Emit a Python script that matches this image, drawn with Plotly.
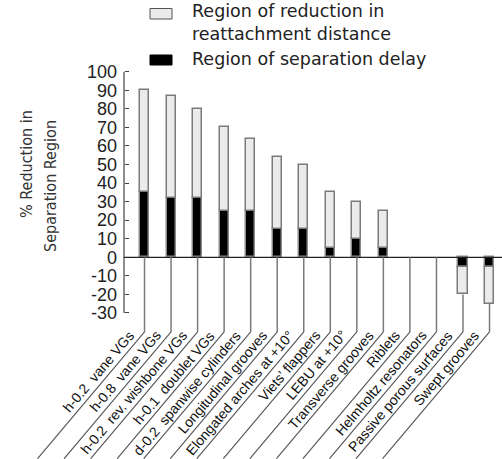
import plotly.graph_objects as go

# ---------------- data ----------------
categories = [
    "h-0.2\u00a0\u00a0vane VGs",
    "h-0.8\u00a0\u00a0vane VGs",
    "h-0.2\u00a0\u00a0rev. wishbone VGs",
    "h-0.1\u00a0\u00a0doublet VGs",
    "d-0.2\u00a0\u00a0spanwise cylinders",
    "Longitudinal grooves",
    "Elongated arches at +10\u00b0",
    "Viets\u2019 flappers",
    "LEBU at +10\u00b0",
    "Transverse grooves",
    "Riblets",
    "Helmholtz resonators",
    "Passive porous surfaces",
    "Swept grooves",
]
total_reduction = [90, 87, 80, 70, 64, 54, 50, 35, 30, 25, 0, 0, -20, -25]
separation_delay = [35, 32, 32, 25, 25, 15, 15, 5, 10, 5, 0, 0, -5, -5]

tick_values = [100, 90, 80, 70, 60, 50, 40, 30, 20, 10, 0, -10, -20, -30]
tick_labels = [str(v) for v in tick_values]

legend_reattach = ["Region of reduction in", "reattachment distance"]
legend_delay = "Region of separation delay"
axis_title_lines = ["% Reduction in", "Separation Region"]

# ------------- derived ---------------
reattach_part = [t - d for t, d in zip(total_reduction, separation_delay)]
positions = list(range(len(categories)))

W, H = 502, 459
X_RANGE = [-5.445, 13.47]
Y_RANGE = [-108.67, 138.63]
AXIS_X = 124 / W          # paper position of the value axis
STEM_END = -40.2          # where vertical leaders turn diagonal
DIAG_DX = 4.03            # horizontal run of the diagonal leaders (x units)
DIAG_END = -108.5

FONT = "Liberation Sans, Arial, Helvetica, sans-serif"
LEGEND_FONT = "DejaVu Sans, Liberation Sans, sans-serif"

fig = go.Figure()
fig.add_bar(
    x=positions, y=separation_delay, width=0.34,
    marker=dict(color="#000000",
                line=dict(color="#8a8a8a",
                          width=[1.5 if v != 0 else 0 for v in separation_delay])),
    name=legend_delay, showlegend=False,
)
fig.add_bar(
    x=positions, y=reattach_part, width=0.34,
    marker=dict(color="#ebebeb",
                line=dict(color="#7a7a7a",
                          width=[1.5 if v != 0 else 0 for v in reattach_part])),
    name=" ".join(legend_reattach), showlegend=False,
)

shapes = []
# value axis line
shapes.append(dict(type="line", xref="paper", yref="y", x0=AXIS_X, x1=AXIS_X,
                   y0=tick_values[-1], y1=tick_values[0],
                   line=dict(color="#444", width=1.2)))
# zero line
shapes.append(dict(type="line", xref="paper", yref="y", x0=AXIS_X, x1=1,
                   y0=0, y1=0, line=dict(color="#222", width=1.2)))
# leaders
for i, t in zip(positions, total_reduction):
    bottom = min(t, 0)
    shapes.append(dict(type="line", xref="x", yref="y", x0=i, x1=i,
                       y0=bottom, y1=STEM_END,
                       line=dict(color="#7a7a7a", width=1.5)))
    shapes.append(dict(type="line", xref="x", yref="y", x0=i, x1=i - DIAG_DX,
                       y0=STEM_END, y1=DIAG_END,
                       line=dict(color="#555", width=1.1)))

# legend symbols
shapes.append(dict(type="rect", xref="paper", yref="paper",
                   x0=150 / W, x1=172 / W, y0=1 - 19 / H, y1=1 - 8.5 / H,
                   fillcolor="#ebebeb", line=dict(color="#555", width=1)))
shapes.append(dict(type="rect", xref="paper", yref="paper",
                   x0=150 / W, x1=172 / W, y0=1 - 65 / H, y1=1 - 55 / H,
                   fillcolor="#000", line=dict(color="#000", width=1)))

annotations = []
for i, name in zip(positions, categories):
    annotations.append(dict(
        x=i, y=STEM_END, xref="x", yref="y", text=name, showarrow=False,
        textangle=-49.7, xanchor="right", yanchor="top", xshift=-4, yshift=7,
        font=dict(family=FONT, size=14, color="#111"),
    ))

# legend texts
annotations.append(dict(
    x=190 / W, y=1 - 22.5 / H, xref="paper", yref="paper",
    text="<br>".join(legend_reattach), align="left",
    showarrow=False, xanchor="left", yanchor="middle",
    font=dict(family=LEGEND_FONT, size=17.5, color="#222"),
))
annotations.append(dict(
    x=190 / W, y=1 - 59 / H, xref="paper", yref="paper", text=legend_delay,
    showarrow=False, xanchor="left", yanchor="middle",
    font=dict(family=LEGEND_FONT, size=17.5, color="#222"),
))

# axis title (two rotated lines)
for txt, xpx, ypx in [(axis_title_lines[0], 26, 164), (axis_title_lines[1], 50, 186)]:
    annotations.append(dict(
        x=xpx / W, y=1 - ypx / H, xref="paper", yref="paper", text=txt,
        showarrow=False, textangle=-90, xanchor="center", yanchor="middle",
        font=dict(family="Liberation Sans Narrow, DejaVu Sans Condensed, Liberation Sans, sans-serif",
                  size=16, color="#333"),
    ))

fig.update_layout(
    width=W, height=H,
    margin=dict(l=0, r=0, t=0, b=0),
    barmode="relative", bargap=0,
    plot_bgcolor="white", paper_bgcolor="white",
    showlegend=False,
    shapes=shapes, annotations=annotations,
    xaxis=dict(range=X_RANGE, visible=False, fixedrange=True),
    yaxis=dict(range=Y_RANGE, anchor="free", position=AXIS_X,
               tickvals=tick_values, ticktext=tick_labels,
               ticks="inside", ticklen=4, tickcolor="#444", tickwidth=1.2,
               showgrid=False, zeroline=False, showline=False,
               ticklabelstandoff=7,
               tickfont=dict(family=FONT, size=18, color="#222"),
               fixedrange=True),
)

fig.write_html(
    "out.html",
    config={"displayModeBar": False},
    post_script="document.body.style.margin='0';document.body.style.padding='0';",
)
